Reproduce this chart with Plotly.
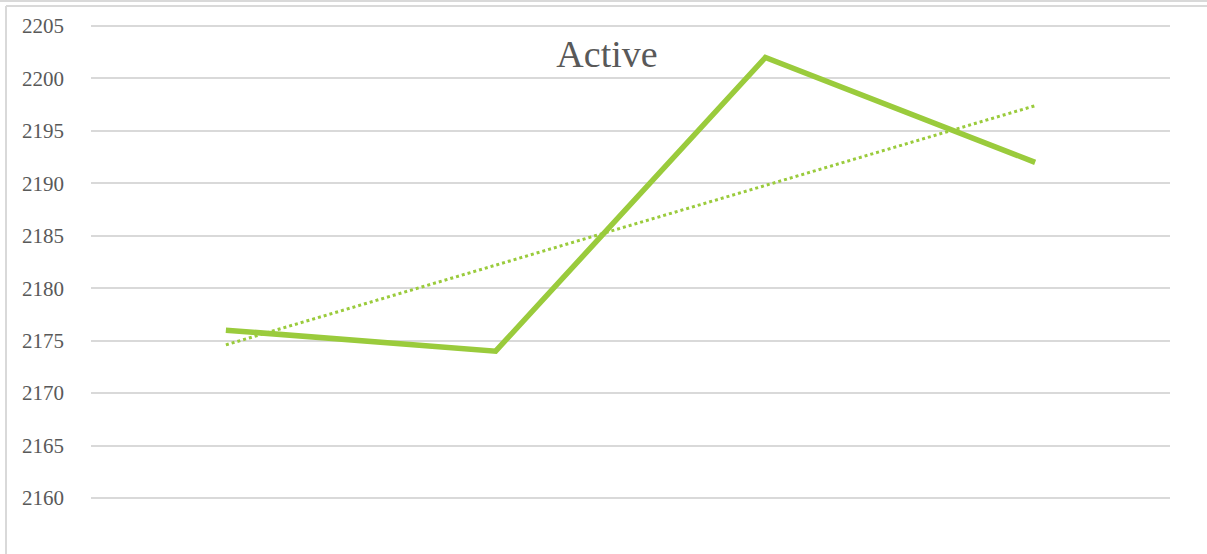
import plotly.graph_objects as go

categories = ["1", "2", "3", "4"]
active = [2176, 2174, 2202, 2192]
trend_x = ["1", "4"]
trend_y = [2174.6, 2197.4]
y_ticks = [2160, 2165, 2170, 2175, 2180, 2185, 2190, 2195, 2200, 2205]

W, H = 1207, 554
L, R = 91, 1170
Y_TOP_PX, Y_BOT_PX = 26, 498          # pixel positions of 2205 / 2160
PPU = (Y_BOT_PX - Y_TOP_PX) / (y_ticks[-1] - y_ticks[0])
T, B = 16, 508
y_lo = y_ticks[0] - (B - Y_BOT_PX) / PPU
y_hi = y_ticks[-1] + (Y_TOP_PX - T) / PPU

def px(x):
    return (x - L) / (R - L)

def py(y):
    return (B - y) / (B - T)

fig = go.Figure()
fig.add_trace(go.Scatter(x=trend_x, y=trend_y, mode="lines",
                         line=dict(color="#9ACB3C", width=3, dash="dot"),
                         hoverinfo="skip", showlegend=False))
fig.add_trace(go.Scatter(x=categories, y=active, mode="lines",
                         line=dict(color="#9ACB3C", width=5.5),
                         showlegend=False))

fig.update_layout(
    width=W, height=H,
    margin=dict(l=L, r=W - R, t=T, b=H - B, pad=0),
    paper_bgcolor="white", plot_bgcolor="white",
    xaxis=dict(type="category", categoryorder="array", categoryarray=categories,
               range=[-0.5, 3.5], showticklabels=False, showgrid=False,
               zeroline=False, showline=False, ticks=""),
    yaxis=dict(range=[y_lo, y_hi], tickvals=y_ticks,
               ticktext=[str(v) for v in y_ticks],
               showgrid=True, gridcolor="#D9D9D9", gridwidth=1.5,
               zeroline=False, showline=False, ticks="",
               ticklabelstandoff=26,
               tickfont=dict(family="Liberation Serif", size=21, color="#595959")),
    title=dict(text="Active", xref="paper", x=px(607), xanchor="center",
               y=1 - 54 / H, yanchor="middle",
               font=dict(family="Liberation Serif", size=38, color="#595959")),
    shapes=[
        dict(type="line", xref="paper", yref="paper", x0=px(6), x1=px(W), y0=py(6), y1=py(6),
             line=dict(color="#D9D9D9", width=2)),
        dict(type="line", xref="paper", yref="paper", x0=px(0), x1=px(W), y0=py(1), y1=py(1),
             line=dict(color="#D9D9D9", width=2)),
        dict(type="line", xref="paper", yref="paper", x0=px(6), x1=px(6), y0=py(6), y1=py(H),
             line=dict(color="#D9D9D9", width=2)),
    ],
)

fig.write_html("out.html", config={"displayModeBar": False},
               post_script="document.body.style.margin='0';document.body.style.padding='0';")
